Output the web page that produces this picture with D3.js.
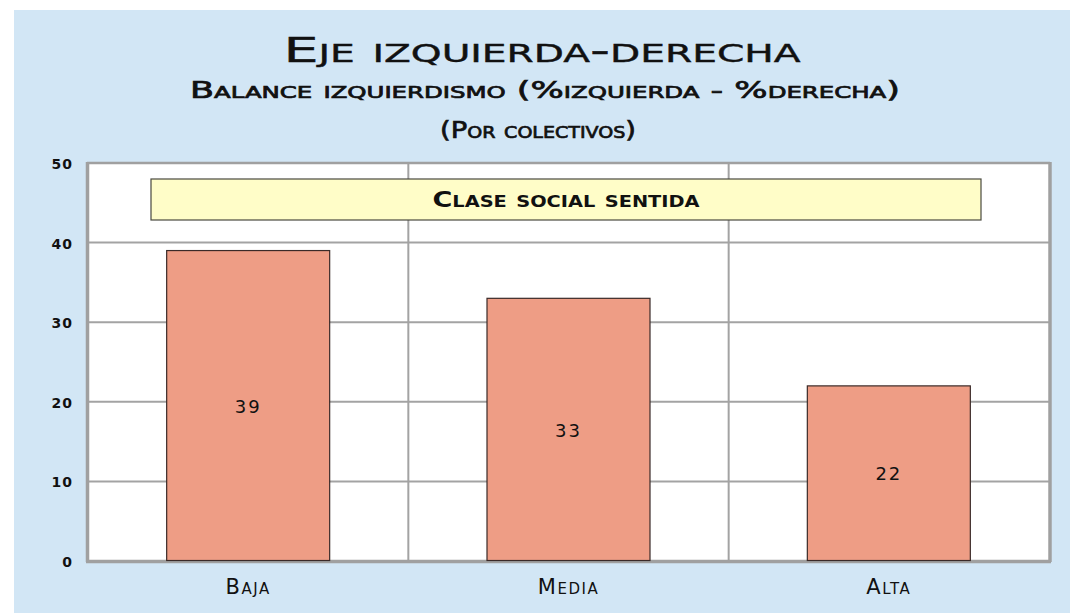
<!DOCTYPE html>
<html><head><meta charset="utf-8">
<script src="https://cdn.jsdelivr.net/npm/d3@7"></script>
<style>
html,body{margin:0;padding:0;background:#fff;}
svg{display:block;}
text{font-family:"DejaVu Sans",sans-serif;font-variant:small-caps;fill:#111;}
</style></head>
<body>
<svg id="c" width="1070" height="613"></svg>
<script>
const categories = ["Baja", "Media", "Alta"];
const values = [39, 33, 22];
const yTicks = [0, 10, 20, 30, 40, 50];
const title = "Eje izquierda-derecha";
const subtitle = "Balance izquierdismo (%izquierda - %derecha)";
const subtitle2 = "(Por colectivos)";
const legendLabel = "Clase social sentida";

const svg = d3.select("#c");
svg.append("rect").attr("x",14).attr("y",10).attr("width",1056).attr("height",603).attr("fill","#D2E6F5");

const L=88, R=1049, T=163, B=561;
const x = d3.scaleBand().domain(categories).range([L,R]).paddingInner(0).paddingOuter(0);
const y = d3.scaleLinear().domain([0,50]).range([B,T]);

svg.append("rect").attr("x",L).attr("y",T).attr("width",R-L).attr("height",B-T).attr("fill","#fff");

// horizontal grid
svg.append("g").selectAll("line").data(yTicks.slice(1,-1)).join("line")
  .attr("x1",L).attr("x2",R).attr("y1",d=>y(d)).attr("y2",d=>y(d))
  .attr("stroke","#A3A3A3").attr("stroke-width",2);
// vertical grid
svg.append("g").selectAll("line").data(categories.slice(1)).join("line")
  .attr("x1",d=>x(d)).attr("x2",d=>x(d)).attr("y1",T).attr("y2",B)
  .attr("stroke","#A3A3A3").attr("stroke-width",2);

// frame
svg.append("line").attr("x1",L-1).attr("x2",R+1).attr("y1",T).attr("y2",T).attr("stroke","#A0A0A0").attr("stroke-width",2.5);
svg.append("line").attr("x1",R+1).attr("x2",R+1).attr("y1",T-1).attr("y2",B+1).attr("stroke","#A0A0A0").attr("stroke-width",3.5);
svg.append("line").attr("x1",L-0.5).attr("x2",L-0.5).attr("y1",T-1).attr("y2",B+1).attr("stroke","#A0A0A0").attr("stroke-width",3.5);
svg.append("line").attr("x1",L-2).attr("x2",R+2).attr("y1",B+0.5).attr("y2",B+0.5).attr("stroke","#A0A0A0").attr("stroke-width",3.5);

// bars
const bw = 163;
svg.append("g").selectAll("rect").data(values).join("rect")
  .attr("x",(d,i)=>x(categories[i])+x.bandwidth()/2-bw/2)
  .attr("y",d=>y(d)).attr("width",bw).attr("height",d=>B-y(d)-0.5)
  .attr("fill","#EE9D85").attr("stroke","#3a2a28").attr("stroke-width",1.2);

// value labels
svg.append("g").selectAll("text").data(values).join("text")
  .attr("x",(d,i)=>x(categories[i])+x.bandwidth()/2)
  .attr("y",d=>y(d/2)+7).attr("text-anchor","middle")
  .attr("font-size",18).attr("letter-spacing",2).text(d=>d);

// y tick labels
svg.append("g").selectAll("text").data(yTicks).join("text")
  .attr("x",73).attr("y",d=>y(d)+6).attr("text-anchor","end")
  .attr("font-size",14).attr("font-weight","bold").attr("letter-spacing",1).text(d=>d);

// category labels
svg.append("g").selectAll("text").data(categories).join("text")
  .attr("x",d=>x(d)+x.bandwidth()/2).attr("y",594).attr("text-anchor","middle")
  .attr("font-size",21).attr("letter-spacing",1.5).text(d=>d);

// legend
svg.append("rect").attr("x",151).attr("y",179).attr("width",830).attr("height",41)
  .attr("fill","#FFFDC8").attr("stroke","#4a4a40").attr("stroke-width",1.2);
svg.append("text").attr("x",566).attr("y",207).attr("text-anchor","middle")
  .attr("font-size",21).attr("font-weight","bold")
  .attr("textLength",267).attr("lengthAdjust","spacingAndGlyphs").text(legendLabel);

// titles
svg.append("text").attr("x",542).attr("y",62).attr("text-anchor","middle")
  .attr("font-size",34).attr("stroke","#111").attr("stroke-width",0.4)
  .attr("textLength",517).attr("lengthAdjust","spacingAndGlyphs").text(title);
svg.append("text").attr("x",545).attr("y",98).attr("text-anchor","middle")
  .attr("font-size",23).attr("stroke","#111").attr("stroke-width",0.7)
  .attr("textLength",710).attr("lengthAdjust","spacingAndGlyphs").text(subtitle);
svg.append("text").attr("x",538).attr("y",138).attr("text-anchor","middle")
  .attr("font-size",23).attr("stroke","#111").attr("stroke-width",0.7)
  .attr("textLength",196).attr("lengthAdjust","spacingAndGlyphs").text(subtitle2);
</script>
</body></html>
